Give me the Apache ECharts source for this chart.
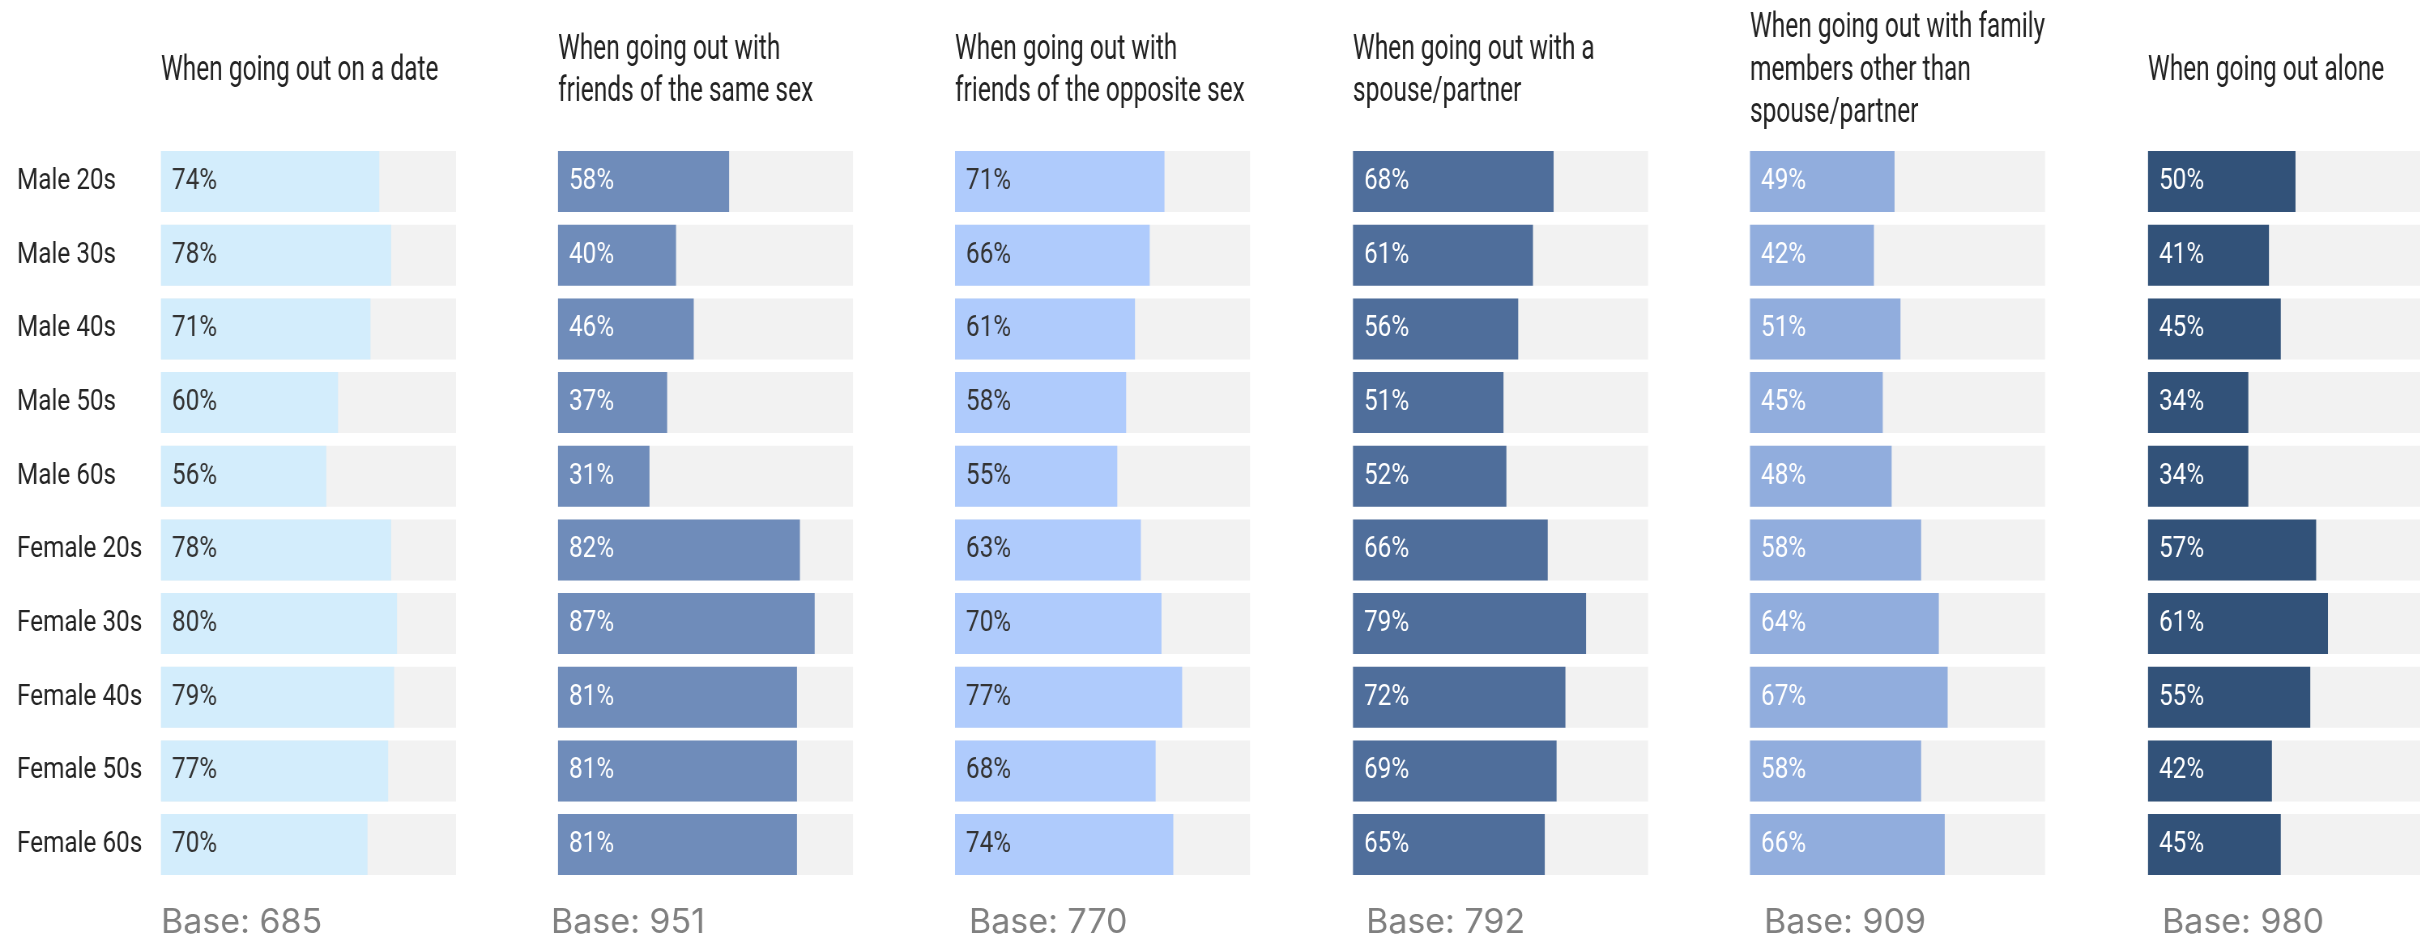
<!DOCTYPE html>
<html>
<head>
<meta charset="utf-8">
<title>Going out: share by sex and age</title>
<script src="https://cdn.jsdelivr.net/npm/echarts@6/dist/echarts.min.js"></script>
<style>
  html, body { margin: 0; padding: 0; background: #ffffff; overflow: hidden; }
  #wrap { position: absolute; left: 0; top: 0; width: 2420px; height: 940px; overflow: hidden; }
  #chart { position: absolute; left: 0; top: 0; height: 940px; transform-origin: 0 0; }
</style>
</head>
<body>
<div id="wrap"><div id="chart"></div></div>
<script>
// ---- data ----
const categories = ['Male 20s', 'Male 30s', 'Male 40s', 'Male 50s', 'Male 60s',
                    'Female 20s', 'Female 30s', 'Female 40s', 'Female 50s', 'Female 60s'];

const panelTitles = [
  'When going out on a date',
  'When going out with\nfriends of the same sex',
  'When going out with\nfriends of the opposite sex',
  'When going out with a\nspouse/partner',
  'When going out with family\nmembers other than\nspouse/partner',
  'When going out alone'
];

const onDate             = [74, 78, 71, 60, 56, 78, 80, 79, 77, 70];
const sameSexFriends     = [58, 40, 46, 37, 31, 82, 87, 81, 81, 81];
const oppositeSexFriends = [71, 66, 61, 58, 55, 63, 70, 77, 68, 74];
const withPartner        = [68, 61, 56, 51, 52, 66, 79, 72, 69, 65];
const withFamily         = [49, 42, 51, 45, 48, 58, 64, 67, 58, 66];
const alone              = [50, 41, 45, 34, 34, 57, 61, 55, 42, 45];

const baseCounts = [685, 951, 770, 792, 909, 980];

const panelValues = [onDate, sameSexFriends, oppositeSexFriends, withPartner, withFamily, alone];

// ---- styling / layout ----
const barColors   = ['#D3EDFC', '#6F8CBA', '#AFCBFC', '#4F6E9B', '#91ADDD', '#325279'];
const labelColors = ['#333333', '#ffffff', '#333333', '#ffffff', '#ffffff', '#ffffff'];

// condensed look: the chart is laid out wider and squeezed horizontally
const S = 0.81;
const vx = x => x / S;
// drawing surface runs past the right edge so the last column keeps its full track
const DRAW_W = 2480;
const VW = Math.round(DRAW_W / S);

const panelLeft = [161, 558, 955, 1353, 1750, 2148];
const trackWidth = 295;
const gridTop = 144.7;
const gridHeight = 736.7;
const baseOffsets = [0, -7, 14, 13, 14, 14];

const FONT = 'Roboto, "Noto Sans", sans-serif';

const el = document.getElementById('chart');
el.style.width = VW + 'px';
el.style.transform = 'scaleX(' + S + ')';

const chart = echarts.init(el, null, { renderer: 'canvas', width: VW, height: 940 });

const grids = [], xAxes = [], yAxes = [], series = [], graphics = [];

panelValues.forEach((vals, i) => {
  grids.push({
    left: vx(panelLeft[i]),
    width: vx(trackWidth),
    top: gridTop,
    height: gridHeight,
    containLabel: false
  });
  xAxes.push({
    type: 'value', gridIndex: i, min: 0, max: 100, show: false
  });
  yAxes.push({
    type: 'category', gridIndex: i, data: categories, inverse: true,
    show: i === 0,
    axisLine: { show: false }, axisTick: { show: false }, splitLine: { show: false },
    axisLabel: {
      show: i === 0,
      align: 'left',
      margin: vx(panelLeft[0] - 17),
      fontFamily: FONT, fontSize: 30, color: '#242424'
    }
  });
  series.push({
    type: 'bar',
    xAxisIndex: i, yAxisIndex: i,
    data: vals,
    barWidth: 61,
    showBackground: true,
    backgroundStyle: { color: '#F2F2F2' },
    itemStyle: { color: barColors[i] },
    label: {
      show: true,
      position: 'insideLeft',
      distance: vx(11),
      formatter: '{c}%',
      fontFamily: FONT, fontSize: 30,
      color: labelColors[i]
    },
    silent: true
  });

  // column heading
  graphics.push({
    type: 'text',
    x: vx(panelLeft[i]), y: 71,
    scaleX: 0.69 / S,
    style: {
      text: panelTitles[i],
      font: '35.5px ' + FONT,
      fill: '#222222',
      align: 'left', verticalAlign: 'middle',
      lineHeight: 42.5
    }
  });
  // sample size
  graphics.push({
    type: 'text',
    x: vx(panelLeft[i] + baseOffsets[i]), y: 922.5,
    scaleX: 1 / S,
    style: {
      text: 'Base: ' + baseCounts[i],
      font: '34px Inter, "Open Sans", sans-serif',
      fill: '#808080',
      align: 'left', verticalAlign: 'middle'
    }
  });
});

chart.setOption({
  animation: false,
  backgroundColor: '#ffffff',
  grid: grids,
  xAxis: xAxes,
  yAxis: yAxes,
  series: series,
  graphic: graphics
});
</script>
</body>
</html>
